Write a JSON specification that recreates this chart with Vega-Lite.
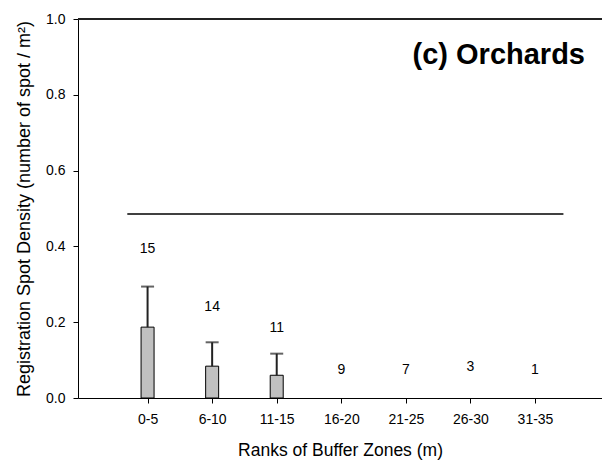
{
  "$schema": "https://vega.github.io/schema/vega-lite/v6.json",
  "width": 524,
  "height": 379,
  "autosize": {"type": "none"},
  "padding": {"left": 78, "top": 19, "right": 0, "bottom": 64},
  "config": {
    "view": {"stroke": null},
    "font": "Liberation Sans",
    "axis": {
      "grid": false,
      "domainColor": "#000",
      "tickColor": "#000",
      "labelColor": "#000",
      "titleColor": "#000",
      "labelFont": "Liberation Sans",
      "titleFont": "Liberation Sans",
      "labelFontSize": 14,
      "titleFontSize": 17.5,
      "titleFontWeight": "normal",
      "tickSize": 5
    }
  },
  "title": {
    "text": "(c) Orchards",
    "anchor": "end",
    "frame": "group",
    "font": "Liberation Sans",
    "fontSize": 29,
    "fontWeight": "bold",
    "color": "#000",
    "baseline": "alphabetic",
    "offset": -46,
    "dx": -17,
    "dy": 35
  },
  "data": {
    "values": [
      {"zone": "0-5", "pos": 1, "mean": 0.187, "upper": 0.294, "n": 15, "labelY": 0.393},
      {"zone": "6-10", "pos": 2, "mean": 0.084, "upper": 0.147, "n": 14, "labelY": 0.240},
      {"zone": "11-15", "pos": 3, "mean": 0.060, "upper": 0.117, "n": 11, "labelY": 0.185},
      {"zone": "16-20", "pos": 4, "mean": 0, "upper": null, "n": 9, "labelY": 0.074},
      {"zone": "21-25", "pos": 5, "mean": 0, "upper": null, "n": 7, "labelY": 0.074},
      {"zone": "26-30", "pos": 6, "mean": 0, "upper": null, "n": 3, "labelY": 0.083},
      {"zone": "31-35", "pos": 7, "mean": 0, "upper": null, "n": 1, "labelY": 0.074}
    ]
  },
  "layer": [
    {
      "mark": {"type": "rule", "color": "#222", "strokeWidth": 1},
      "encoding": {"y": {"datum": 1, "type": "quantitative"}}
    },
    {
      "transform": [{"filter": "datum.mean > 0"}],
      "mark": {"type": "bar", "size": 13, "fill": "#c0c0c0", "stroke": "#000", "strokeWidth": 1},
      "encoding": {
        "x": {
          "field": "pos",
          "type": "quantitative",
          "scale": {"domain": [0, 7.96], "nice": false, "zero": false},
          "axis": {
            "values": [1, 2, 3, 4, 5, 6, 7],
            "labelExpr": "['0-5','6-10','11-15','16-20','21-25','26-30','31-35'][datum.value - 1]",
            "labelPadding": 9,
            "title": "Ranks of Buffer Zones (m)",
            "titlePadding": 15
          }
        },
        "y": {
          "field": "mean",
          "type": "quantitative",
          "scale": {"domain": [0, 1], "nice": false},
          "axis": {
            "values": [0, 0.2, 0.4, 0.6, 0.8, 1.0],
            "format": ".1f",
            "labelPadding": 8,
            "title": "Registration Spot Density (number of spot / m²)",
            "titleFontSize": 18,
            "titlePadding": 12
          }
        }
      }
    },
    {
      "transform": [{"filter": "datum.upper != null"}],
      "mark": {"type": "rule", "color": "#222", "strokeWidth": 2},
      "encoding": {
        "x": {"field": "pos", "type": "quantitative"},
        "y": {"field": "mean", "type": "quantitative"},
        "y2": {"field": "upper"}
      }
    },
    {
      "transform": [{"filter": "datum.upper != null"}],
      "mark": {"type": "tick", "color": "#222", "size": 13, "thickness": 2, "orient": "horizontal"},
      "encoding": {
        "x": {"field": "pos", "type": "quantitative"},
        "y": {"field": "upper", "type": "quantitative"}
      }
    },
    {
      "mark": {"type": "text", "fontSize": 14, "fill": "#000", "baseline": "middle", "align": "center"},
      "encoding": {
        "x": {"field": "pos", "type": "quantitative"},
        "y": {"field": "labelY", "type": "quantitative"},
        "text": {"field": "n", "type": "quantitative"}
      }
    },
    {
      "data": {"values": [{"start": 0.686, "end": 7.44, "level": 0.4855}]},
      "mark": {"type": "rule", "color": "#000", "strokeWidth": 1.5},
      "encoding": {
        "x": {"field": "start", "type": "quantitative"},
        "x2": {"field": "end"},
        "y": {"field": "level", "type": "quantitative"}
      }
    }
  ]
}
